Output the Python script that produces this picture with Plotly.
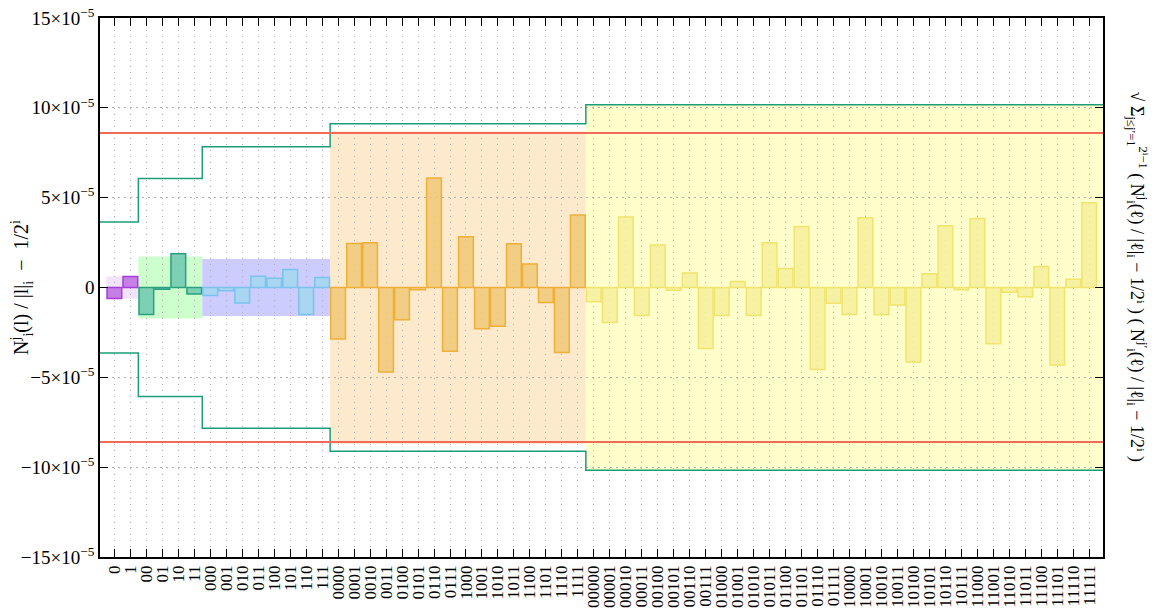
import plotly.graph_objects as go

# ---------------- data (values in units of 1e-5) ----------------
level1_labels = ["0", "1"]
level1_values = [-0.61, 0.61]

level2_labels = ["00", "01", "10", "11"]
level2_values = [-1.50, -0.10, 1.88, -0.36]

level3_labels = ["000", "001", "010", "011", "100", "101", "110", "111"]
level3_values = [-0.45, -0.18, -0.86, 0.63, 0.52, 1.00, -1.50, 0.56]

level4_labels = [format(i, "04b") for i in range(16)]
level4_values = [-2.86, 2.45, 2.49, -4.70, -1.79, -0.13, 6.10, -3.55,
                 2.82, -2.29, -2.16, 2.44, 1.31, -0.84, -3.62, 4.03]

level5_labels = [format(i, "05b") for i in range(32)]
level5_values = [-0.80, -1.95, 3.93, -1.56, 2.36, -0.15, 0.81, -3.40,
                 -1.56, 0.33, -1.56, 2.49, 1.06, 3.40, -4.57, -0.87,
                 -1.50, 3.88, -1.52, -0.97, -4.14, 0.76, 3.43, -0.13,
                 3.84, -3.13, -0.26, -0.52, 1.17, -4.31, 0.46, 4.72]

# half-height of shaded band for each level
band_values = [0.61, 1.72, 1.58, 8.70, 10.17]
# stepped bound (teal) for each level
bound_values = [3.65, 6.07, 7.84, 9.12, 10.17]
# global threshold (red)
threshold_value = 8.60

y_tick_values = [-15, -10, -5, 0, 5, 10, 15]
y_tick_labels = ["−15×10<sup>−5</sup>", "−10×10<sup>−5</sup>", "−5×10<sup>−5</sup>", "0",
                 "5×10<sup>−5</sup>", "10×10<sup>−5</sup>", "15×10<sup>−5</sup>"]

# ---------------- styles ----------------
levels = [
    (level1_labels, level1_values, "rgba(190,110,225,0.85)", "#a53fd6", "#f1e3fb"),
    (level2_labels, level2_values, "rgba(110,200,175,0.85)", "#2aa07f", "#ccffcc"),
    (level3_labels, level3_values, "rgba(165,215,240,0.9)", "#7cc2ee", "#ccccff"),
    (level4_labels, level4_values, "rgba(240,200,120,0.85)", "#efb03a", "#fde9cb"),
    (level5_labels, level5_values, "rgba(245,238,155,0.85)", "#f1e46e", "#ffffcc"),
]

X_MIN, X_MAX = -0.9, 61.86

fig = go.Figure()
all_labels = []
shapes = []
start = 0
bound_x = []
bound_y = []
for li, (labs, vals, fill, edge, band) in enumerate(levels):
    n = len(labs)
    xs = list(range(start, start + n))
    all_labels += labs
    x0 = start - 0.5
    x1 = start + n - 0.5
    if li == len(levels) - 1:
        x1 = X_MAX
    shapes.append(dict(type="rect", xref="x", yref="y", x0=x0, x1=x1,
                       y0=-band_values[li], y1=band_values[li],
                       fillcolor=band, line=dict(width=0), layer="below"))
    fig.add_trace(go.Bar(x=xs, y=vals, width=0.92,
                         marker=dict(color=fill, line=dict(color=edge, width=1.5)),
                         showlegend=False, hoverinfo="skip"))
    bx0 = X_MIN if li == 0 else x0
    bound_x.append(bx0)
    bound_y.append(bound_values[li])
    start += n
bound_x.append(X_MAX)
bound_y.append(bound_values[-1])

for sgn in (1, -1):
    fig.add_trace(go.Scatter(x=bound_x, y=[sgn * v for v in bound_y], mode="lines",
                             line=dict(color="#1b9e77", width=1.5, shape="hv"),
                             showlegend=False, hoverinfo="skip"))
    fig.add_trace(go.Scatter(x=[X_MIN, X_MAX], y=[sgn * threshold_value] * 2, mode="lines",
                             line=dict(color="#f46a58", width=1.8),
                             showlegend=False, hoverinfo="skip"))

font_family = "Liberation Serif, DejaVu Serif, serif"

# the page body has an 8px margin, so the figure is offset by (8, 8)
fig.update_layout(
    width=1161, height=602,
    margin=dict(l=92, r=66, t=10, b=53),
    paper_bgcolor="white", plot_bgcolor="white",
    barmode="overlay",
    shapes=shapes,
    font=dict(family=font_family, color="black", size=17),
    xaxis=dict(
        range=[X_MIN, X_MAX], automargin=False, ticklabeloverflow="allow",
        tickmode="array", tickvals=list(range(len(all_labels))), ticktext=all_labels,
        tickangle=-90, tickfont=dict(size=17, family=font_family),
        ticks="inside", ticklen=8, tickwidth=1, tickcolor="black",
        showline=True, linecolor="black", linewidth=1.5, mirror="ticks",
        showgrid=True, gridcolor="#b0b0b0", gridwidth=1, griddash="1px,5px",
        zeroline=False,
    ),
    yaxis=dict(
        range=[-15, 15], automargin=False, ticklabeloverflow="allow",
        tickmode="array", tickvals=y_tick_values, ticktext=y_tick_labels,
        tickfont=dict(size=19, family=font_family),
        ticks="inside", ticklen=8, tickwidth=1, tickcolor="black",
        showline=True, linecolor="black", linewidth=1.5, mirror="ticks",
        showgrid=True, gridcolor="#b0b0b0", gridwidth=1, griddash="2px,4px",
        zeroline=False,
        title=dict(text="N<sup>j</sup><sub>i</sub>(l) / |l|<sub>i</sub>  −  1/2<sup>i</sup>",
                   font=dict(size=20, family=font_family), standoff=12),
    ),
    annotations=[dict(
        xref="paper", yref="paper", x=1.034, y=0.52, showarrow=False,
        textangle=90, xanchor="center", yanchor="middle",
        font=dict(size=18, family=font_family),
        text="√ Σ<sub>j≤j′=1</sub><sup>2ⁱ−1</sup> ( N<sup>j</sup><sub>i</sub>(ℓ) / |ℓ|<sub>i</sub> − 1/2ⁱ ) ( N<sup>j′</sup><sub>i</sub>(ℓ) / |ℓ|<sub>i</sub> − 1/2ⁱ )",
    )],
)

fig.write_html("out.html")
